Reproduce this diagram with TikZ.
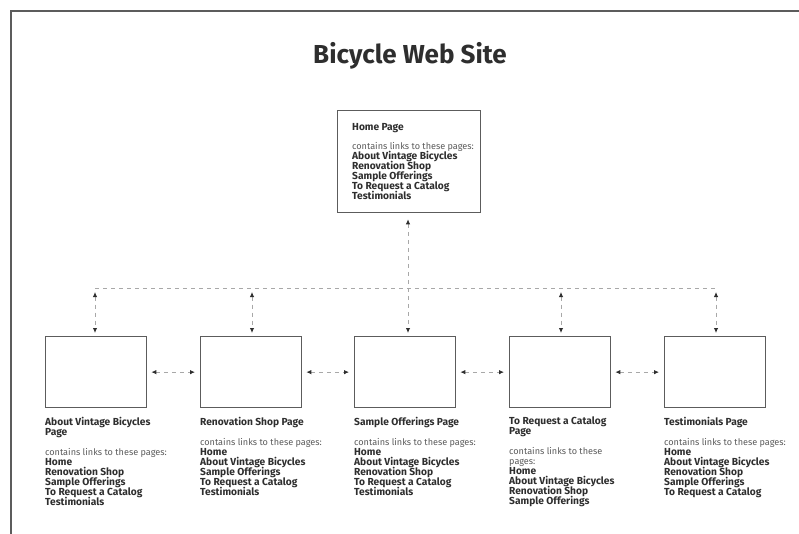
\documentclass[tikz,border=0pt]{standalone}
\usepackage{fontspec}
\setmainfont{Fira Sans}
\usetikzlibrary{arrows.meta}
\definecolor{txt}{HTML}{2E2E2E}
\definecolor{soft}{HTML}{5A5A5A}
\definecolor{boxgray}{HTML}{5C5C5C}
\definecolor{dashgray}{HTML}{A8A8A8}
\newcommand{\tightlns}{\lineskiplimit=-6pt\relax\lineskip=0pt\relax}
\tikzset{
  pagebox/.style={draw=boxgray, line width=1.3pt, fill=white, minimum width=101pt, minimum height=71pt, inner sep=0pt, anchor=north west},
  homebox/.style={draw=boxgray, line width=1.3pt, fill=white, minimum width=143pt, minimum height=102pt, inner sep=0pt, anchor=north west},
  lbl/.style={anchor=north west, inner sep=0pt, align=left, text=txt, font=\fontsize{10.2}{10}\selectfont\tightlns},
  dashline/.style={draw=dashgray, line width=0.9pt, dash pattern=on 4pt off 4pt},
  tip/.style={{Latex[length=5pt,width=4.5pt,color=txt]}-{Latex[length=5pt,width=4.5pt,color=txt]}},
  frame/.style={draw=boxgray, line width=1.4pt}
}
\newcommand{\hd}[1]{\textbf{#1}}
\newcommand{\cl}[1]{{\color{soft}\fontsize{9.1}{10}\selectfont #1}}
\begin{document}
\begin{tikzpicture}[x=1pt,y=-1pt]
\useasboundingbox (0,0) rectangle (799,534);
% frame
\coordinate (fa) at (11,540);
\coordinate (fb) at (11,11);
\coordinate (fc) at (805,11);
\draw[frame] (fa) -- (fb) -- (fc);
% title
\node[text=txt, font=\bfseries\fontsize{26}{30}\selectfont] (title) at (410,56) {Bicycle Web Site};
% home
\node[homebox] (home) at (337,110) {};
\node[lbl] (homet) at (352,123) {\hd{Home Page}\\[9pt]\cl{contains links to these pages:}\\\hd{About Vintage Bicycles}\\\hd{Renovation Shop}\\\hd{Sample Offerings}\\\hd{To Request a Catalog}\\\hd{Testimonials}};
% page boxes
\node[pagebox] (b1) at (45,336) {};
\node[pagebox] (b2) at (200,336) {};
\node[pagebox] (b3) at (354,336) {};
\node[pagebox] (b4) at (509,336) {};
\node[pagebox] (b5) at (664,336) {};
% labels
\node[lbl] (l1) at (45,417) {\hd{About Vintage Bicycles}\\\hd{Page}\\[10pt]\cl{contains links to these pages:}\\\hd{Home}\\\hd{Renovation Shop}\\\hd{Sample Offerings}\\\hd{To Request a Catalog}\\\hd{Testimonials}};
\node[lbl] (l2) at (200,417) {\hd{Renovation Shop Page}\\[10pt]\cl{contains links to these pages:}\\\hd{Home}\\\hd{About Vintage Bicycles}\\\hd{Sample Offerings}\\\hd{To Request a Catalog}\\\hd{Testimonials}};
\node[lbl] (l3) at (354,417) {\hd{Sample Offerings Page}\\[10pt]\cl{contains links to these pages:}\\\hd{Home}\\\hd{About Vintage Bicycles}\\\hd{Renovation Shop}\\\hd{To Request a Catalog}\\\hd{Testimonials}};
\node[lbl] (l4) at (509,417) {\hd{To Request a Catalog}\\\hd{Page}\\[10pt]\cl{contains links to these}\\\cl{pages:}\\\hd{Home}\\\hd{About Vintage Bicycles}\\\hd{Renovation Shop}\\\hd{Sample Offerings}};
\node[lbl] (l5) at (664,417) {\hd{Testimonials Page}\\[10pt]\cl{contains links to these pages:}\\\hd{Home}\\\hd{About Vintage Bicycles}\\\hd{Renovation Shop}\\\hd{Sample Offerings}\\\hd{To Request a Catalog}};
% bus coordinates
\coordinate (t1) at (95,288);
\coordinate (t2) at (252,288);
\coordinate (t3) at (408,288);
\coordinate (t4) at (561,288);
\coordinate (t5) at (716,288);
\draw[dashline] (t1) -- (t5);
\draw[dashline, tip, shorten <=4pt, shorten >=3pt] (t1) -- (t1 |- b1.north);
\draw[dashline, tip, shorten <=4pt, shorten >=3pt] (t2) -- (t2 |- b2.north);
\draw[dashline, tip, shorten <=4pt, shorten >=3pt] (t4) -- (t4 |- b4.north);
\draw[dashline, tip, shorten <=4pt, shorten >=3pt] (t5) -- (t5 |- b5.north);
\draw[dashline, tip, shorten <=6pt, shorten >=3pt] (t3 |- home.south) -- (t3 |- b3.north);
% neighbour arrows
\draw[dashline, tip, shorten <=4pt, shorten >=5pt] (b1.east) -- (b2.west);
\draw[dashline, tip, shorten <=4pt, shorten >=5pt] (b2.east) -- (b3.west);
\draw[dashline, tip, shorten <=4pt, shorten >=5pt] (b3.east) -- (b4.west);
\draw[dashline, tip, shorten <=4pt, shorten >=5pt] (b4.east) -- (b5.west);
\end{tikzpicture}
\end{document}
